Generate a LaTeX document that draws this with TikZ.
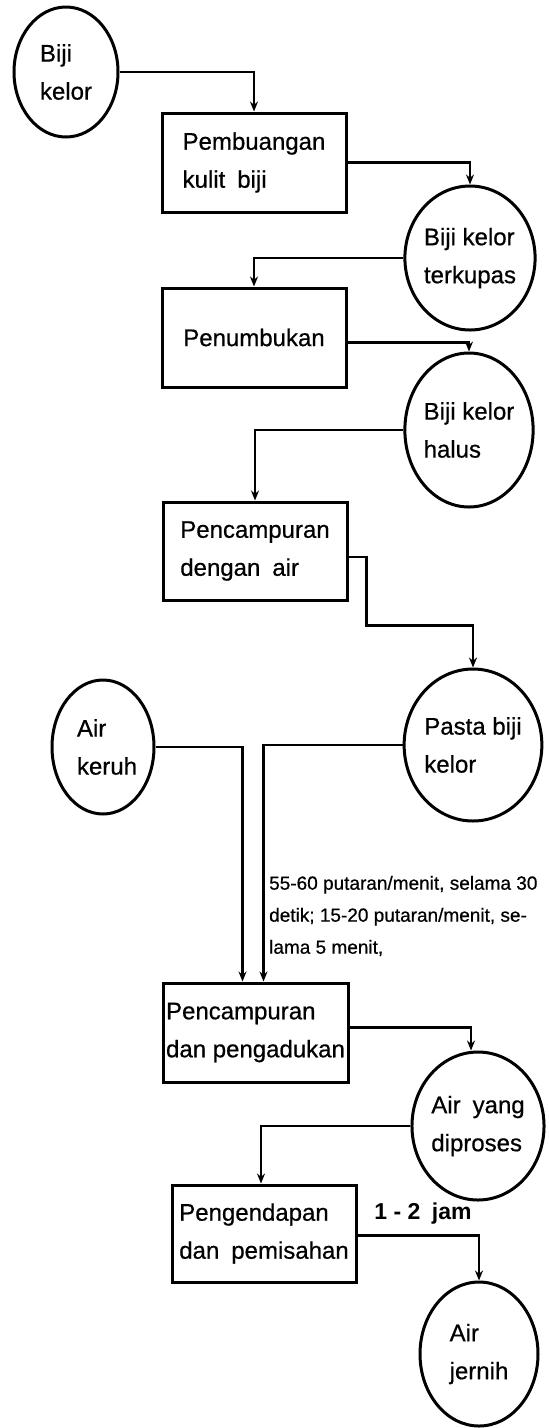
\documentclass[tikz,border=0pt]{standalone}
\usepackage{fontspec}
\setmainfont{Liberation Sans}
\newfontfamily\heavyfont[FakeBold=0.6]{Liberation Sans}
\usetikzlibrary{shapes.geometric,arrows.meta,calc}
\newcommand{\mainsz}{\heavyfont\fontsize{24}{38}\selectfont}
\newcommand{\notesz}{\heavyfont\fontsize{19}{32}\selectfont}
\begin{document}
\begin{tikzpicture}[x=1pt,y=-1pt,
  proc/.style={draw, line width=3pt, rectangle, inner sep=0pt, align=left, font=\mainsz},
  state/.style={draw, line width=3pt, ellipse, inner sep=0pt, align=left, font=\mainsz},
  conn/.style={line width=2.6pt, -{Stealth[length=10pt,width=8pt]}},
  note/.style={inner sep=0pt, align=left}
]
\useasboundingbox (0,0) rectangle (549,1428);
\fill[white] (0,0) rectangle (549,1428);

% nodes
\node[state, minimum width=104pt, minimum height=130pt] (c1) at (66,72) {Biji\\kelor};
\node[proc, minimum width=184pt, minimum height=99pt] (b1) at (254,162.5) {Pembuangan\\kulit\enspace biji};
\node[state, minimum width=120pt, minimum height=144pt] (c2) at (470,258) {Biji kelor\\terkupas};
\node[proc, minimum width=184pt, minimum height=99pt] (b2) at (254,337.5) {Penumbukan};
\node[state, minimum width=118pt, minimum height=154pt] (c3) at (469,430) {Biji kelor\\halus};
\node[proc, minimum width=184pt, minimum height=98pt] (b3) at (255,551) {Pencampuran\\dengan\enspace air};
\node[state, minimum width=122pt, minimum height=152pt] (c4) at (473,745) {Pasta biji\\kelor};
\node[state, minimum width=102pt, minimum height=134pt] (c5) at (103,747) {\hspace*{8pt}Air\\\hspace*{8pt}keruh};
\node[proc, minimum width=185pt, minimum height=99pt] (b4) at (255.5,1032.5) {Pencampuran\\dan pengadukan};
\node[state, minimum width=118pt, minimum height=148pt] (c6) at (478,1126) {Air\enspace yang\\diproses};
\node[proc, minimum width=184pt, minimum height=97pt] (b5) at (264,1233.5) {Pengendapan\\dan\enspace pemisahan};
\node[state, minimum width=118pt, minimum height=144pt] (c7) at (479,1354) {Air\\jernih};

% labels
\node[note, anchor=west, font=\notesz] (n1) at (269,916) {55-60 putaran/menit, selama 30\\detik; 15-20 putaran/menit, se-\\lama 5 menit,};
\node[note, font=\bfseries\fontsize{23}{28}\selectfont] (n2) at (423,1214) {1 - 2\enspace jam};

% connectors
\draw[conn] (c1.east) -| (b1.north);
\draw[conn] (b1.east) -| (c2.north);
\draw[conn] (c2.west) -| (b2.north);
\draw[conn] ([yshift=-5pt]b2.east) -| (c3.north);
\draw[conn] (c3.west) -| (b3.north);
\draw[conn] ([yshift=-6pt]b3.east) -- ++(18,0) |- ([yshift=42pt]c4.north) -- (c4.north);
\draw[conn] (c5.east) -| ([xshift=-13pt]b4.north);
\draw[conn] (c4.west) -| ([xshift=8pt]b4.north);
\draw[conn] ([yshift=5pt]b4.east) -| ([xshift=-7pt]c6.north);
\draw[conn] (c6.west) -| ([xshift=-3pt]b5.north);
\draw[conn] ([yshift=-2pt]b5.east) -| (c7.north);
\end{tikzpicture}
\end{document}
